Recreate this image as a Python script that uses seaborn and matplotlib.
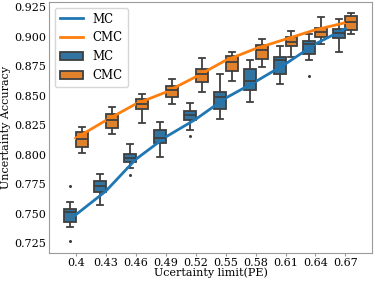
import numpy as np
import pandas as pd
import seaborn as sns
import matplotlib.pyplot as plt
from matplotlib.lines import Line2D

# uncertainty limits (PE)
cats = ["0.4", "0.43", "0.46", "0.49", "0.52", "0.55", "0.58", "0.61", "0.64", "0.67"]

# MC box stats
mc_whislo = [0.7385, 0.7574, 0.7884, 0.7977, 0.8213, 0.8306, 0.8444, 0.8604, 0.8805, 0.8875]
mc_q1 = [0.7433, 0.7686, 0.7940, 0.8103, 0.8298, 0.8391, 0.8548, 0.8684, 0.8856, 0.8987]
mc_med = [0.7510, 0.7731, 0.7975, 0.8146, 0.8334, 0.8490, 0.8623, 0.8805, 0.8940, 0.9033]
mc_q3 = [0.7537, 0.7779, 0.8010, 0.8207, 0.8370, 0.8531, 0.8724, 0.8831, 0.8968, 0.9067]
mc_whishi = [0.7596, 0.7835, 0.8095, 0.8275, 0.8441, 0.8687, 0.8805, 0.8923, 0.9025, 0.9151]
mc_out = {"0.4": [0.7264, 0.7734], "0.46": [0.7825], "0.52": [0.8159], "0.64": [0.8665]}

# CMC box stats
cmc_whislo = [0.8016, 0.8174, 0.8271, 0.8433, 0.8531, 0.8626, 0.8742, 0.8827, 0.8940, 0.9025]
cmc_q1 = [0.8069, 0.8227, 0.8386, 0.8489, 0.8616, 0.8706, 0.8809, 0.8920, 0.9002, 0.9058]
cmc_med = [0.8133, 0.8292, 0.8430, 0.8548, 0.8681, 0.8788, 0.8886, 0.8959, 0.9038, 0.9123]
cmc_q3 = [0.8190, 0.8343, 0.8471, 0.8586, 0.8723, 0.8835, 0.8933, 0.8996, 0.9075, 0.9179]
cmc_whishi = [0.8231, 0.8404, 0.8512, 0.8641, 0.8822, 0.8868, 0.8982, 0.9052, 0.9165, 0.9199]
cmc_out = {}

# curves drawn over the boxes
mc_line = [0.749, 0.769, 0.796, 0.815, 0.830, 0.848, 0.862, 0.877, 0.894, 0.907]
cmc_line = [0.814, 0.829, 0.843, 0.853, 0.866, 0.880, 0.890, 0.898, 0.906, 0.912]


def samples(lo, q1, med, q3, hi, out):
    # 9 points -> numpy percentiles land exactly on q1 / med / q3
    low = [v for v in out if v < q1]
    high = [v for v in out if v > q3]
    s = [low[0] if low else lo, lo, q1, (q1 + med) / 2, med, (med + q3) / 2, q3, hi, high[0] if high else hi]
    return s


rows = []
for name, st, out in [("MC", (mc_whislo, mc_q1, mc_med, mc_q3, mc_whishi), mc_out),
                      ("CMC", (cmc_whislo, cmc_q1, cmc_med, cmc_q3, cmc_whishi), cmc_out)]:
    for i, c in enumerate(cats):
        for v in samples(*[a[i] for a in st], out.get(c, [])):
            rows.append((c, v, name))
box_df = pd.DataFrame(rows, columns=["limit", "acc", "method"])

line_df = pd.DataFrame({"limit": cats * 2, "acc": mc_line + cmc_line,
                        "method": ["MC"] * len(cats) + ["CMC"] * len(cats)})

plt.rcParams['font.family'] = 'DejaVu Serif'
plt.rcParams['font.size'] = 8
plt.rcParams['legend.fontsize'] = 8.5
plt.rcParams['axes.edgecolor'] = '#9a9a9a'
plt.rcParams['xtick.color'] = '#9a9a9a'
plt.rcParams['ytick.color'] = '#9a9a9a'
plt.rcParams['xtick.labelcolor'] = 'black'
plt.rcParams['ytick.labelcolor'] = 'black'

fig, ax = plt.subplots(figsize=(3.74, 2.81), dpi=100)
fig.subplots_adjust(left=0.131, right=0.995, bottom=0.10, top=0.993)

sns.boxplot(data=box_df, x="limit", y="acc", hue="method", order=cats, hue_order=["MC", "CMC"],
            palette=["tab:blue", "tab:orange"], linewidth=1.3, fliersize=1.2, ax=ax)

sns.lineplot(data=line_df, x="limit", y="acc", hue="method", hue_order=["MC", "CMC"],
             palette=["tab:blue", "tab:orange"], linewidth=2, ax=ax)

handles = ax.get_legend().legend_handles
h_line = [h for h in handles if isinstance(h, Line2D)][-2:]
h_box = [h for h in handles if not isinstance(h, Line2D)][:2]
ax.legend(h_line + h_box, ["MC", "CMC", "MC", "CMC"], loc="upper left")

ax.set_yticks(np.arange(0.725, 0.926, 0.025))
ax.yaxis.set_major_formatter(plt.FormatStrFormatter('%.3f'))
ax.tick_params(axis="y", length=0, pad=2)
ax.tick_params(axis="x", length=2, pad=1.5)
ax.set_xlabel("Ucertainty limit(PE)", labelpad=0)
ax.set_ylabel("Uncertainty Accuracy", labelpad=2)

fig.savefig("out.png", dpi=100)
